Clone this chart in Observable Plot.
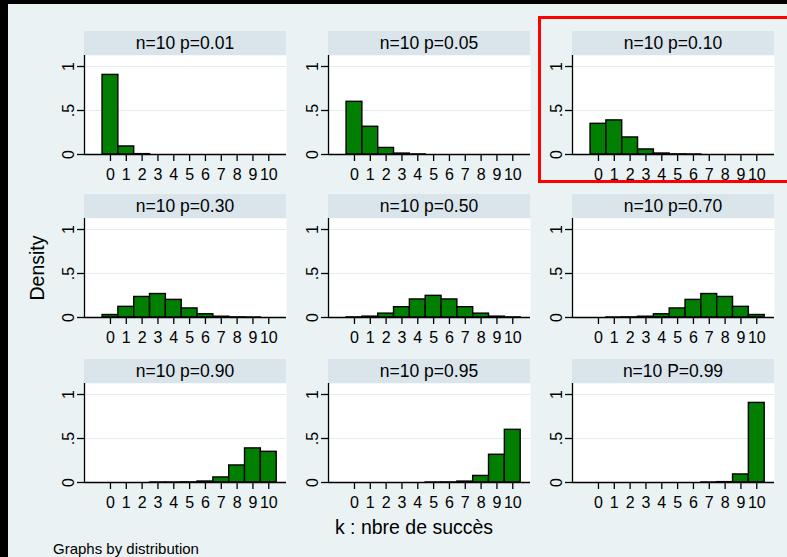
<!DOCTYPE html>
<html>
<head>
<meta charset="utf-8">
<script src="https://cdn.jsdelivr.net/npm/d3@7"></script>
<script src="https://cdn.jsdelivr.net/npm/@observablehq/plot@0.6"></script>
<style>
  html, body { margin: 0; padding: 0; background: #000; }
  #chart {
    position: absolute; left: 0; top: 0; width: 787px; height: 557px;
    background: #EAF2F3; overflow: hidden;
    font-family: "Liberation Sans", Arial, sans-serif; color: #000;
  }
  .edge { position: absolute; background: #000; }
  .strip {
    position: absolute; height: 24px; background: #D9E5EB;
    font-size: 17.5px; line-height: 24px; text-align: center; white-space: nowrap;
  }
  .panel { position: absolute; }
  .txt { position: absolute; white-space: nowrap; }
  #highlight {
    position: absolute; left: 538px; top: 16px; width: 262px; height: 167px;
    box-sizing: border-box; border: 3px solid #FF0000;
  }
</style>
</head>
<body>
<div id="chart"></div>
<script>
// Binomial distributions, n = 10: probability of k successes
const k = [0, 1, 2, 3, 4, 5, 6, 7, 8, 9, 10];

const panelTitles = [
  "n=10 p=0.01", "n=10 p=0.05", "n=10 p=0.10",
  "n=10 p=0.30", "n=10 p=0.50", "n=10 p=0.70",
  "n=10 p=0.90", "n=10 p=0.95", "n=10 P=0.99"
];

const densP01 = [0.9044, 0.0914, 0.0042, 0, 0, 0, 0, 0, 0, 0, 0];
const densP05 = [0.5987, 0.3151, 0.0746, 0.0105, 0.0010, 0, 0, 0, 0, 0, 0];
const densP10 = [0.3487, 0.3874, 0.1937, 0.0574, 0.0112, 0.0015, 0.0001, 0, 0, 0, 0];
const densP30 = [0.0282, 0.1211, 0.2335, 0.2668, 0.2001, 0.1029, 0.0368, 0.0090, 0.0014, 0.0001, 0];
const densP50 = [0.0010, 0.0098, 0.0439, 0.1172, 0.2051, 0.2461, 0.2051, 0.1172, 0.0439, 0.0098, 0.0010];
const densP70 = [0, 0.0001, 0.0014, 0.0090, 0.0368, 0.1029, 0.2001, 0.2668, 0.2335, 0.1211, 0.0282];
const densP90 = [0, 0, 0, 0.00001, 0.0001, 0.0015, 0.0112, 0.0574, 0.1937, 0.3874, 0.3487];
const densP95 = [0, 0, 0, 0, 0, 0.0001, 0.0010, 0.0105, 0.0746, 0.3151, 0.5987];
const densP99 = [0, 0, 0, 0, 0, 0, 0, 0.0001, 0.0042, 0.0914, 0.9044];

const xTicks = k;
const yTicks = [0, 0.5, 1];
const yTickLabels = ["0", ".5", "1"];

const yTitle = "Density";
const xTitle = "k : nbre de succès";
const byNote = "Graphs by distribution";

const allSeries = [densP01, densP05, densP10, densP30, densP50, densP70, densP90, densP95, densP99];

// layout of the 3 x 3 grid (plot-area corners, in page pixels)
const colLeft = [84, 328, 572];
const rowTop = [55, 218, 383];
const innerW = 202, innerH = 99;
const mLeft = 30, mBottom = 30;

const chart = document.getElementById("chart");

function add(cls, css, text) {
  const el = document.createElement("div");
  el.className = cls;
  Object.assign(el.style, css);
  if (text != null) el.textContent = text;
  chart.appendChild(el);
  return el;
}

// dark edges along top and left
add("edge", {left: "0px", top: "0px", width: "787px", height: "4px"});
add("edge", {left: "0px", top: "0px", width: "8px", height: "557px"});

allSeries.forEach((vals, i) => {
  const col = i % 3, row = Math.floor(i / 3);
  const x0 = colLeft[col], y0 = rowTop[row];
  const data = k.map((kk, j) => ({k: kk, v: vals[j]}));

  add("strip", {left: x0 + "px", top: (y0 - 24) + "px", width: innerW + "px"}, panelTitles[i]);

  const svg = Plot.plot({
    width: mLeft + innerW,
    height: innerH + mBottom,
    marginLeft: mLeft, marginRight: 0, marginTop: 0, marginBottom: mBottom,
    x: {domain: [-1.64, 11.12]},
    y: {domain: [0, 1.125]},
    style: {background: "transparent", fontFamily: "Liberation Sans, Arial, sans-serif", fontSize: "16px", color: "#000", overflow: "visible"},
    marks: [
      Plot.frame({fill: "white", stroke: "none"}),
      Plot.ruleY([0.5, 1], {stroke: "#E3ECEF", strokeWidth: 1.2}),
      Plot.rect(data, {
        filter: d => d.v > 0,
        x1: d => d.k - 0.5, x2: d => d.k + 0.5,
        y1: d => 0, y2: "v",
        fill: "#007F00", stroke: "#000", strokeWidth: 1.4
      }),
      Plot.ruleY([0], {stroke: "#000", strokeWidth: 1.3}),
      Plot.ruleX([-1.64], {stroke: "#000", strokeWidth: 1.3}),
      Plot.axisX({ticks: xTicks, tickFormat: d => String(d), tickSize: 7, tickPadding: 7, strokeWidth: 1.3, fontSize: 16, label: null}),
      Plot.axisY({
        ticks: yTicks,
        tickFormat: d => yTickLabels[yTicks.indexOf(d)],
        tickRotate: -90, tickSize: 7, tickPadding: 4, strokeWidth: 1.3, fontSize: 16, label: null
      })
    ]
  });
  const wrap = add("panel", {left: (x0 - mLeft) + "px", top: y0 + "px"});
  wrap.appendChild(svg);
});

// axis titles and note
const yt = add("txt", {left: "37px", top: "268px", fontSize: "19.5px", transform: "translate(-50%, -50%) rotate(-90deg)"}, yTitle);
add("txt", {left: "414px", top: "516px", fontSize: "19.5px", transform: "translateX(-50%)"}, xTitle);
add("txt", {left: "53px", top: "540px", fontSize: "15px"}, byNote);

// highlighted panel
add("", {}, null).id = "highlight";
</script>
</body>
</html>
